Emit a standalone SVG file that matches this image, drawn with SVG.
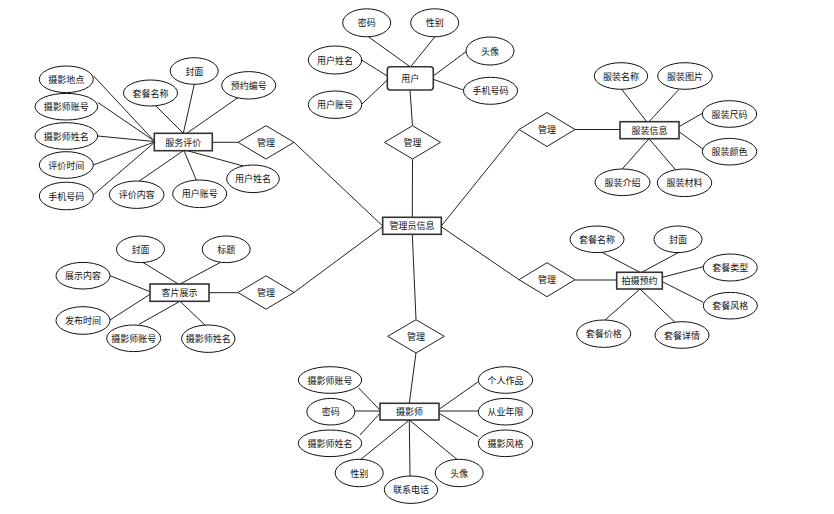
<svg xmlns="http://www.w3.org/2000/svg" width="834" height="514" viewBox="0 0 834 514">
<style>
.c line{stroke:#222;stroke-width:1}
.a ellipse{fill:#fff;stroke:#111;stroke-width:1}
.e rect{fill:#fff;stroke:#333;stroke-width:1.6}
.r polygon{fill:#fff;stroke:#222;stroke-width:1}
text{font-family:"Noto Sans CJK SC","Liberation Sans",sans-serif;font-size:9px;fill:#111;text-anchor:middle;dominant-baseline:central}
</style>
<rect width="834" height="514" fill="#fff"/>
<g id="connectors" class="c">
<!-- 用户 -->
<line x1="368.3" y1="36.7" x2="410" y2="66.7"/>
<line x1="435" y1="36.7" x2="410.7" y2="66.7"/>
<line x1="361.7" y1="60" x2="387.3" y2="76"/>
<line x1="361.7" y1="104.3" x2="387.3" y2="80"/>
<line x1="466" y1="51.7" x2="433.3" y2="76"/>
<line x1="463.3" y1="90" x2="433.3" y2="79.3"/>
<line x1="410" y1="90" x2="412.5" y2="125.7"/>
<line x1="412.5" y1="159" x2="412.3" y2="217.3"/>
<!-- 管理员信息 -->
<line x1="294" y1="142.3" x2="382.7" y2="226"/>
<line x1="294" y1="292.5" x2="382.7" y2="226.7"/>
<line x1="441.3" y1="226" x2="519" y2="129.5"/>
<line x1="441.3" y1="226.7" x2="519" y2="279.7"/>
<line x1="412.3" y1="234.3" x2="416" y2="319.7"/>
<!-- 服务评价 -->
<line x1="212.3" y1="142.3" x2="238" y2="142.3"/>
<line x1="93.3" y1="75.7" x2="154.3" y2="141"/>
<line x1="97.7" y1="102.3" x2="154.3" y2="141"/>
<line x1="97.7" y1="136" x2="154.3" y2="141.5"/>
<line x1="93.3" y1="165" x2="154.3" y2="142"/>
<line x1="93.3" y1="195" x2="154.3" y2="142.5"/>
<line x1="138.3" y1="181.7" x2="183.3" y2="150.7"/>
<line x1="196.7" y1="181" x2="184" y2="150.7"/>
<line x1="243.3" y1="166" x2="187.3" y2="150.7"/>
<line x1="155" y1="105" x2="183.3" y2="133.3"/>
<line x1="194.3" y1="84.3" x2="183.3" y2="133.3"/>
<line x1="239.3" y1="96.7" x2="186.7" y2="133.3"/>
<!-- 服装信息 -->
<line x1="575" y1="129.5" x2="620" y2="129.5"/>
<line x1="621.7" y1="89.3" x2="646.7" y2="121.7"/>
<line x1="679" y1="89.3" x2="649" y2="121.7"/>
<line x1="702.3" y1="113.3" x2="679" y2="126.7"/>
<line x1="703.3" y1="149.3" x2="679" y2="131.7"/>
<line x1="622.3" y1="169" x2="649" y2="138.7"/>
<line x1="675.7" y1="170" x2="649" y2="138.7"/>
<!-- 拍摄预约 -->
<line x1="575" y1="280" x2="616.7" y2="280"/>
<line x1="600.7" y1="251.7" x2="640" y2="272.3"/>
<line x1="680" y1="251.7" x2="641.7" y2="272.3"/>
<line x1="703.3" y1="266.7" x2="662.3" y2="277.3"/>
<line x1="703.3" y1="302.3" x2="662.3" y2="281.7"/>
<line x1="605" y1="320" x2="640" y2="289"/>
<line x1="675" y1="322.3" x2="640" y2="289"/>
<!-- 客片展示 -->
<line x1="209" y1="292.7" x2="238" y2="292.7"/>
<line x1="141.7" y1="261.7" x2="178.3" y2="284"/>
<line x1="221.7" y1="261.7" x2="180" y2="284"/>
<line x1="110" y1="275.7" x2="150" y2="291.7"/>
<line x1="110" y1="320" x2="150" y2="294.3"/>
<line x1="139" y1="324.3" x2="180" y2="301.3"/>
<line x1="205" y1="325" x2="180" y2="301.3"/>
<!-- 摄影师 -->
<line x1="416" y1="352.7" x2="409.3" y2="403.3"/>
<line x1="358.3" y1="387.7" x2="380" y2="410"/>
<line x1="355" y1="411" x2="380" y2="411"/>
<line x1="360" y1="435" x2="380" y2="413.3"/>
<line x1="478.3" y1="381.7" x2="439" y2="409.3"/>
<line x1="478.3" y1="411" x2="439" y2="411"/>
<line x1="478.3" y1="436.7" x2="439" y2="413.3"/>
<line x1="360" y1="460" x2="409.3" y2="420"/>
<line x1="410" y1="476" x2="409.3" y2="420"/>
<line x1="457.7" y1="460" x2="409.3" y2="420"/>
</g>
<g id="rel-user" class="r"><polygon points="384.5,142.3 412.5,125.7 440.5,142.3 412.5,159"/><text x="412.5" y="142.3">管理</text></g>
<g id="rel-review" class="r"><polygon points="238,142.3 266,125.7 294,142.3 266,159"/><text x="266" y="142.3">管理</text></g>
<g id="rel-show" class="r"><polygon points="238,292.5 266,275.8 294,292.5 266,309.2"/><text x="266" y="292.5">管理</text></g>
<g id="rel-cloth" class="r"><polygon points="519,129.5 547,112.5 575,129.5 547,146.5"/><text x="547" y="129.5">管理</text></g>
<g id="rel-book" class="r"><polygon points="519,279.7 547,262.7 575,279.7 547,296.7"/><text x="547" y="279.7">管理</text></g>
<g id="rel-photographer" class="r"><polygon points="387.7,336.3 416,319.7 444.3,336.3 416,353"/><text x="416" y="336.3">管理</text></g>

<g id="ent-admin" class="e"><rect x="382.7" y="217.3" width="58.6" height="17"/><text x="412" y="225.8">管理员信息</text></g>
<g id="ent-user" class="e"><rect x="387.3" y="66.7" width="46" height="23.3" rx="3"/><text x="410.3" y="78.3">用户</text></g>
<g id="ent-review" class="e"><rect x="154.3" y="133.3" width="58" height="17.4"/><text x="183.3" y="142">服务评价</text></g>
<g id="ent-cloth" class="e"><rect x="620" y="121.7" width="59" height="17"/><text x="649.5" y="130.2">服装信息</text></g>
<g id="ent-book" class="e"><rect x="616.7" y="272.3" width="45.6" height="16.7"/><text x="639.5" y="280.7">拍摄预约</text></g>
<g id="ent-show" class="e"><rect x="150" y="284" width="59" height="17.3"/><text x="179.5" y="292.7">客片展示</text></g>
<g id="ent-photographer" class="e"><rect x="380" y="403.3" width="59" height="16.7"/><text x="409.5" y="411.7">摄影师</text></g>

<g id="attrs-user" class="a">
<g id="u-pwd"><ellipse cx="366.7" cy="22.8" rx="24" ry="14"/><text x="366.7" y="22.8">密码</text></g>
<g id="u-sex"><ellipse cx="434.7" cy="22.8" rx="24" ry="14"/><text x="434.7" y="22.8">性别</text></g>
<g id="u-name"><ellipse cx="335" cy="60" rx="26.7" ry="14"/><text x="335" y="60">用户姓名</text></g>
<g id="u-acct"><ellipse cx="335" cy="104.7" rx="26.7" ry="13.7"/><text x="335" y="104.7">用户账号</text></g>
<g id="u-avatar"><ellipse cx="490" cy="51" rx="24" ry="14"/><text x="490" y="51">头像</text></g>
<g id="u-phone"><ellipse cx="490.5" cy="90.8" rx="27" ry="13.5"/><text x="490.5" y="90.8">手机号码</text></g>
</g>
<g id="attrs-review" class="a">
<g id="r-place"><ellipse cx="66.3" cy="79.3" rx="27" ry="13.3"/><text x="66.3" y="79.3">摄影地点</text></g>
<g id="r-pacct"><ellipse cx="66.3" cy="106.7" rx="31.3" ry="13.3"/><text x="66.3" y="106.7">摄影师账号</text></g>
<g id="r-pname"><ellipse cx="66.3" cy="136" rx="31.3" ry="13.3"/><text x="66.3" y="136">摄影师姓名</text></g>
<g id="r-time"><ellipse cx="66.3" cy="165" rx="27" ry="13.3"/><text x="66.3" y="165">评价时间</text></g>
<g id="r-phone"><ellipse cx="66.3" cy="196" rx="27" ry="13.8"/><text x="66.3" y="196">手机号码</text></g>
<g id="r-content"><ellipse cx="136.7" cy="194.7" rx="27.3" ry="13.7"/><text x="136.7" y="194.7">评价内容</text></g>
<g id="r-uacct"><ellipse cx="199.7" cy="193.8" rx="27" ry="13.8"/><text x="199.7" y="193.8">用户账号</text></g>
<g id="r-uname"><ellipse cx="253" cy="178.8" rx="26.3" ry="13.8"/><text x="253" y="178.8">用户姓名</text></g>
<g id="r-pkg"><ellipse cx="150.5" cy="93" rx="27" ry="13"/><text x="150.5" y="93">套餐名称</text></g>
<g id="r-cover"><ellipse cx="194.2" cy="71" rx="24" ry="13.3"/><text x="194.2" y="71">封面</text></g>
<g id="r-bookno"><ellipse cx="248.7" cy="85.3" rx="27" ry="13.7"/><text x="248.7" y="85.3">预约编号</text></g>
</g>
<g id="attrs-cloth" class="a">
<g id="c-name"><ellipse cx="621" cy="76" rx="26.7" ry="13.3"/><text x="621" y="76">服装名称</text></g>
<g id="c-pic"><ellipse cx="685" cy="76" rx="27.3" ry="13.3"/><text x="685" y="76">服装图片</text></g>
<g id="c-size"><ellipse cx="729.5" cy="114" rx="27.2" ry="13.3"/><text x="729.5" y="114">服装尺码</text></g>
<g id="c-color"><ellipse cx="729.5" cy="151.7" rx="27.2" ry="13.3"/><text x="729.5" y="151.7">服装颜色</text></g>
<g id="c-intro"><ellipse cx="622.5" cy="182.3" rx="27.5" ry="13.3"/><text x="622.5" y="182.3">服装介绍</text></g>
<g id="c-mat"><ellipse cx="684.5" cy="182.8" rx="27.2" ry="13.8"/><text x="684.5" y="182.8">服装材料</text></g>
</g>
<g id="attrs-book" class="a">
<g id="b-name"><ellipse cx="597" cy="239.3" rx="27" ry="13.3"/><text x="597" y="239.3">套餐名称</text></g>
<g id="b-cover"><ellipse cx="678" cy="239.3" rx="24" ry="13.3"/><text x="678" y="239.3">封面</text></g>
<g id="b-type"><ellipse cx="730.3" cy="267.5" rx="27" ry="13.5"/><text x="730.3" y="267.5">套餐类型</text></g>
<g id="b-style"><ellipse cx="730.3" cy="305.7" rx="27" ry="13.3"/><text x="730.3" y="305.7">套餐风格</text></g>
<g id="b-price"><ellipse cx="603.7" cy="333.7" rx="27" ry="13.7"/><text x="603.7" y="333.7">套餐价格</text></g>
<g id="b-detail"><ellipse cx="682" cy="335" rx="27" ry="13.3"/><text x="682" y="335">套餐详情</text></g>
</g>
<g id="attrs-show" class="a">
<g id="s-cover"><ellipse cx="140.5" cy="249.3" rx="24" ry="13.3"/><text x="140.5" y="249.3">封面</text></g>
<g id="s-title"><ellipse cx="226.2" cy="249.3" rx="24" ry="13.3"/><text x="226.2" y="249.3">标题</text></g>
<g id="s-content"><ellipse cx="83" cy="275.7" rx="27" ry="13.3"/><text x="83" y="275.7">展示内容</text></g>
<g id="s-time"><ellipse cx="83" cy="320.5" rx="27" ry="13.8"/><text x="83" y="320.5">发布时间</text></g>
<g id="s-pacct"><ellipse cx="133.7" cy="338.3" rx="27" ry="13.3"/><text x="133.7" y="338.3">摄影师账号</text></g>
<g id="s-pname"><ellipse cx="208.3" cy="338.7" rx="26.7" ry="13.7"/><text x="208.3" y="338.7">摄影师姓名</text></g>
</g>
<g id="attrs-photographer" class="a">
<g id="p-acct"><ellipse cx="330" cy="380" rx="31.7" ry="13.3"/><text x="330" y="380">摄影师账号</text></g>
<g id="p-pwd"><ellipse cx="330.8" cy="411.7" rx="24" ry="13.3"/><text x="330.8" y="411.7">密码</text></g>
<g id="p-name"><ellipse cx="330" cy="443.3" rx="31.7" ry="13.3"/><text x="330" y="443.3">摄影师姓名</text></g>
<g id="p-sex"><ellipse cx="359.2" cy="473" rx="24" ry="13.7"/><text x="359.2" y="473">性别</text></g>
<g id="p-tel"><ellipse cx="411" cy="489.7" rx="26.7" ry="13.7"/><text x="411" y="489.7">联系电话</text></g>
<g id="p-avatar"><ellipse cx="459.2" cy="473" rx="24" ry="13.7"/><text x="459.2" y="473">头像</text></g>
<g id="p-works"><ellipse cx="505.5" cy="380" rx="27.2" ry="13.3"/><text x="505.5" y="380">个人作品</text></g>
<g id="p-years"><ellipse cx="505.5" cy="411.7" rx="27.2" ry="13.3"/><text x="505.5" y="411.7">从业年限</text></g>
<g id="p-style"><ellipse cx="505.5" cy="443.3" rx="27.2" ry="13.3"/><text x="505.5" y="443.3">摄影风格</text></g>
</g>
</svg>
